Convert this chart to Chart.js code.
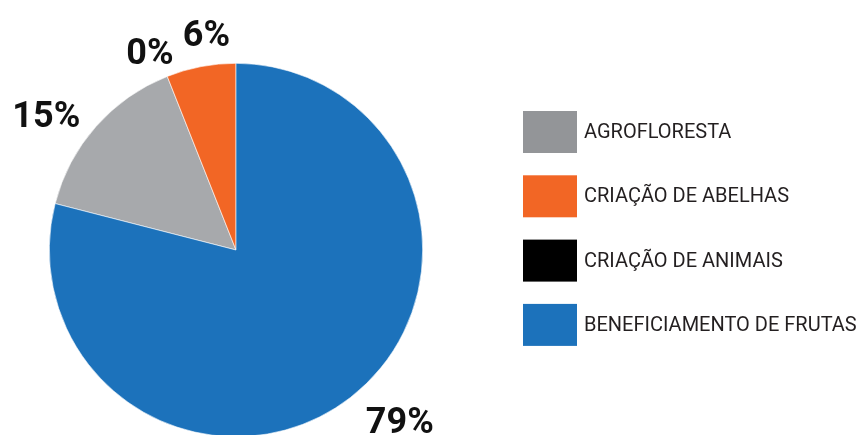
<!DOCTYPE html>
<html>
<head>
<meta charset="utf-8">
<script src="https://cdn.jsdelivr.net/npm/chart.js@4/dist/chart.umd.min.js"></script>
<style>
  html, body { margin: 0; padding: 0; background: #fff; overflow: hidden; }
  #wrap { width: 859px; height: 435px; overflow: hidden; position: relative; }
  canvas { position: absolute; left: 0; top: 0; }
</style>
</head>
<body>
<div id="wrap"><canvas id="chart" width="859" height="500"></canvas></div>
<script>
// data, in legend order
const categories = ['AGROFLORESTA', 'CRIAÇÃO DE ABELHAS', 'CRIAÇÃO DE ANIMAIS', 'BENEFICIAMENTO DE FRUTAS'];
const shares = [15, 6, 0, 79];
const shareLabels = ['15%', '6%', '0%', '79%'];

const sliceColors = ['#a7a9ac', '#f26625', '#000000', '#1c72bb'];
const legendColors = ['#939598', '#f26625', '#000000', '#1c72bb'];

// percent labels sit outside the slices; small angle/distance nudges per slice
const labelNudge = [
  { angle: -6, dist: 46 },
  { angle: 3, dist: 31 },
  { angle: -23.5, dist: 29 },
  { angle: -6, dist: 50 }
];

const outsideLabels = {
  id: 'outsideLabels',
  afterDatasetsDraw(chart) {
    const ctx = chart.ctx;
    const arcs = chart.getDatasetMeta(0).data;
    ctx.save();
    ctx.font = 'bold 36px Roboto, "DejaVu Sans", sans-serif';
    ctx.fillStyle = '#111';
    ctx.textAlign = 'center';
    ctx.textBaseline = 'middle';
    arcs.forEach((arc, i) => {
      const p = arc.getProps(['x', 'y', 'startAngle', 'endAngle', 'outerRadius'], true);
      const mid = (p.startAngle + p.endAngle) / 2 + labelNudge[i].angle * Math.PI / 180;
      const r = p.outerRadius + labelNudge[i].dist;
      ctx.fillText(shareLabels[i], p.x + Math.cos(mid) * r, p.y + Math.sin(mid) * r + 3);
    });
    ctx.restore();
  }
};

const boxLegend = {
  id: 'boxLegend',
  afterDraw(chart) {
    const ctx = chart.ctx;
    ctx.save();
    ctx.font = '20px Roboto, "DejaVu Sans", sans-serif';
    ctx.textBaseline = 'middle';
    ctx.textAlign = 'left';
    chart.data.labels.forEach((label, i) => {
      const top = 111 + i * 64.3;
      ctx.fillStyle = legendColors[i];
      ctx.fillRect(523, top, 54, 42);
      ctx.fillStyle = '#231f20';
      ctx.fillText(label, 584, top + 22);
    });
    ctx.restore();
  }
};

new Chart(document.getElementById('chart'), {
  type: 'pie',
  data: {
    labels: categories,
    datasets: [{
      data: shares,
      backgroundColor: sliceColors,
      borderColor: '#ffffff',
      borderWidth: 0.6
    }]
  },
  options: {
    responsive: false,
    animation: false,
    devicePixelRatio: 1,
    rotation: -(shares[0] + shares[1] + shares[2]) * 3.6,
    layout: { padding: { left: 49, top: 63, right: 436, bottom: 63 } },
    plugins: {
      legend: { display: false },
      tooltip: { enabled: false }
    }
  },
  plugins: [outsideLabels, boxLegend]
});
</script>
</body>
</html>
